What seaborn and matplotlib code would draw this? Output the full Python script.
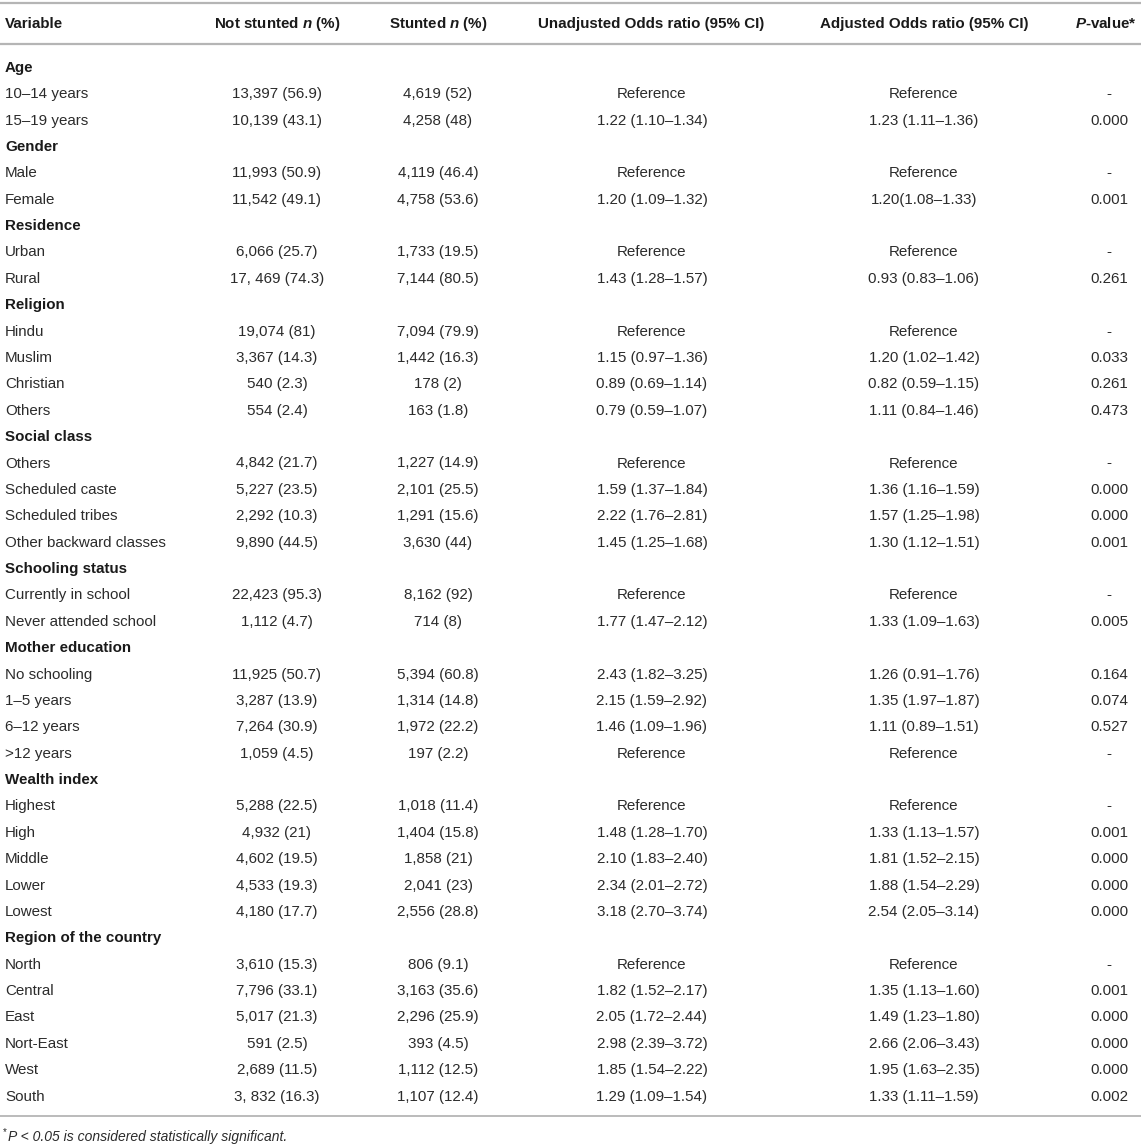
import matplotlib
matplotlib.use("Agg")
import matplotlib.pyplot as plt
import seaborn as sns

# ---------------- data ----------------
headers = ["Variable", "Not stunted $n$ (%)", "Stunted $n$ (%)",
           "Unadjusted Odds ratio (95% CI)", "Adjusted Odds ratio (95% CI)", "$P$-value*"]

groups = ["Age", "Gender", "Residence", "Religion", "Social class", "Schooling status",
          "Mother education", "Wealth index", "Region of the country"]

labels = [
    ["10–14 years", "15–19 years"],
    ["Male", "Female"],
    ["Urban", "Rural"],
    ["Hindu", "Muslim", "Christian", "Others"],
    ["Others", "Scheduled caste", "Scheduled tribes", "Other backward classes"],
    ["Currently in school", "Never attended school"],
    ["No schooling", "1–5 years", "6–12 years", ">12 years"],
    ["Highest", "High", "Middle", "Lower", "Lowest"],
    ["North", "Central", "East", "Nort-East", "West", "South"],
]

not_stunted = [
    ["13,397 (56.9)", "10,139 (43.1)"],
    ["11,993 (50.9)", "11,542 (49.1)"],
    ["6,066 (25.7)", "17, 469 (74.3)"],
    ["19,074 (81)", "3,367 (14.3)", "540 (2.3)", "554 (2.4)"],
    ["4,842 (21.7)", "5,227 (23.5)", "2,292 (10.3)", "9,890 (44.5)"],
    ["22,423 (95.3)", "1,112 (4.7)"],
    ["11,925 (50.7)", "3,287 (13.9)", "7,264 (30.9)", "1,059 (4.5)"],
    ["5,288 (22.5)", "4,932 (21)", "4,602 (19.5)", "4,533 (19.3)", "4,180 (17.7)"],
    ["3,610 (15.3)", "7,796 (33.1)", "5,017 (21.3)", "591 (2.5)", "2,689 (11.5)", "3, 832 (16.3)"],
]

stunted = [
    ["4,619 (52)", "4,258 (48)"],
    ["4,119 (46.4)", "4,758 (53.6)"],
    ["1,733 (19.5)", "7,144 (80.5)"],
    ["7,094 (79.9)", "1,442 (16.3)", "178 (2)", "163 (1.8)"],
    ["1,227 (14.9)", "2,101 (25.5)", "1,291 (15.6)", "3,630 (44)"],
    ["8,162 (92)", "714 (8)"],
    ["5,394 (60.8)", "1,314 (14.8)", "1,972 (22.2)", "197 (2.2)"],
    ["1,018 (11.4)", "1,404 (15.8)", "1,858 (21)", "2,041 (23)", "2,556 (28.8)"],
    ["806 (9.1)", "3,163 (35.6)", "2,296 (25.9)", "393 (4.5)", "1,112 (12.5)", "1,107 (12.4)"],
]

unadjusted = [
    ["Reference", "1.22 (1.10–1.34)"],
    ["Reference", "1.20 (1.09–1.32)"],
    ["Reference", "1.43 (1.28–1.57)"],
    ["Reference", "1.15 (0.97–1.36)", "0.89 (0.69–1.14)", "0.79 (0.59–1.07)"],
    ["Reference", "1.59 (1.37–1.84)", "2.22 (1.76–2.81)", "1.45 (1.25–1.68)"],
    ["Reference", "1.77 (1.47–2.12)"],
    ["2.43 (1.82–3.25)", "2.15 (1.59–2.92)", "1.46 (1.09–1.96)", "Reference"],
    ["Reference", "1.48 (1.28–1.70)", "2.10 (1.83–2.40)", "2.34 (2.01–2.72)", "3.18 (2.70–3.74)"],
    ["Reference", "1.82 (1.52–2.17)", "2.05 (1.72–2.44)", "2.98 (2.39–3.72)", "1.85 (1.54–2.22)", "1.29 (1.09–1.54)"],
]

adjusted = [
    ["Reference", "1.23 (1.11–1.36)"],
    ["Reference", "1.20(1.08–1.33)"],
    ["Reference", "0.93 (0.83–1.06)"],
    ["Reference", "1.20 (1.02–1.42)", "0.82 (0.59–1.15)", "1.11 (0.84–1.46)"],
    ["Reference", "1.36 (1.16–1.59)", "1.57 (1.25–1.98)", "1.30 (1.12–1.51)"],
    ["Reference", "1.33 (1.09–1.63)"],
    ["1.26 (0.91–1.76)", "1.35 (1.97–1.87)", "1.11 (0.89–1.51)", "Reference"],
    ["Reference", "1.33 (1.13–1.57)", "1.81 (1.52–2.15)", "1.88 (1.54–2.29)", "2.54 (2.05–3.14)"],
    ["Reference", "1.35 (1.13–1.60)", "1.49 (1.23–1.80)", "2.66 (2.06–3.43)", "1.95 (1.63–2.35)", "1.33 (1.11–1.59)"],
]

p_values = [
    ["-", "0.000"],
    ["-", "0.001"],
    ["-", "0.261"],
    ["-", "0.033", "0.261", "0.473"],
    ["-", "0.000", "0.000", "0.001"],
    ["-", "0.005"],
    ["0.164", "0.074", "0.527", "-"],
    ["-", "0.001", "0.000", "0.000", "0.000"],
    ["-", "0.001", "0.000", "0.000", "0.000", "0.002"],
]

footnote = "P < 0.05 is considered statistically significant."

# ---------------- style ----------------
sns.set_theme(style="white")
plt.rcParams["font.family"] = ["Liberation Sans", "DejaVu Sans"]
plt.rcParams["mathtext.fontset"] = "custom"
plt.rcParams["mathtext.it"] = "Liberation Sans:italic:bold"
plt.rcParams["mathtext.rm"] = "Liberation Sans:bold"
plt.rcParams["mathtext.bf"] = "Liberation Sans:bold"

W, H = 1143, 1147
fig = plt.figure(figsize=(W / 100, H / 100), dpi=100)
ax = fig.add_axes([0, 0, 1, 1])
ax.set_xlim(0, W)
ax.set_ylim(H, 0)
ax.axis("off")

body_color = "#2b2b2b"
head_color = "#1a1a1a"
line_color = "#b5b5b5"
fs = 10.9

col_x = [5, 277, 438, 652, 924, 1109]
col_ha = ["left", "center", "center", "center", "center", "center"]

# rules
for y, lw in [(3, 1.6), (43.5, 1.6), (1116, 1.3)]:
    ax.plot([0, 1141], [y, y], color=line_color, lw=lw, solid_capstyle="butt")

# header
hx = [5, 277, 438, 651, 924, 1106]
for x, ha, h in zip(hx, col_ha, headers):
    ax.text(x, 27.8, h, ha=ha, va="baseline", fontsize=fs, fontweight="bold", color=head_color)

# body
y0, dy = 71.8, 26.38
i = 0
for g, labs, ns, st, ua, ad, pv in zip(groups, labels, not_stunted, stunted, unadjusted, adjusted, p_values):
    y = y0 + i * dy
    ax.text(5, y, g, ha="left", va="baseline", fontsize=fs, fontweight="bold", color=head_color)
    i += 1
    for row in zip(labs, ns, st, ua, ad, pv):
        y = y0 + i * dy
        for x, ha, val in zip(col_x, col_ha, row):
            ax.text(x, y, val, ha=ha, va="baseline", fontsize=fs, color=body_color)
        i += 1

# footnote
ax.text(3, 1135, "*", ha="left", va="baseline", fontsize=7, color=body_color)
ax.text(8, 1141, footnote, ha="left", va="baseline", fontsize=10, style="italic", color=body_color)

fig.savefig("out.png", dpi=100)
